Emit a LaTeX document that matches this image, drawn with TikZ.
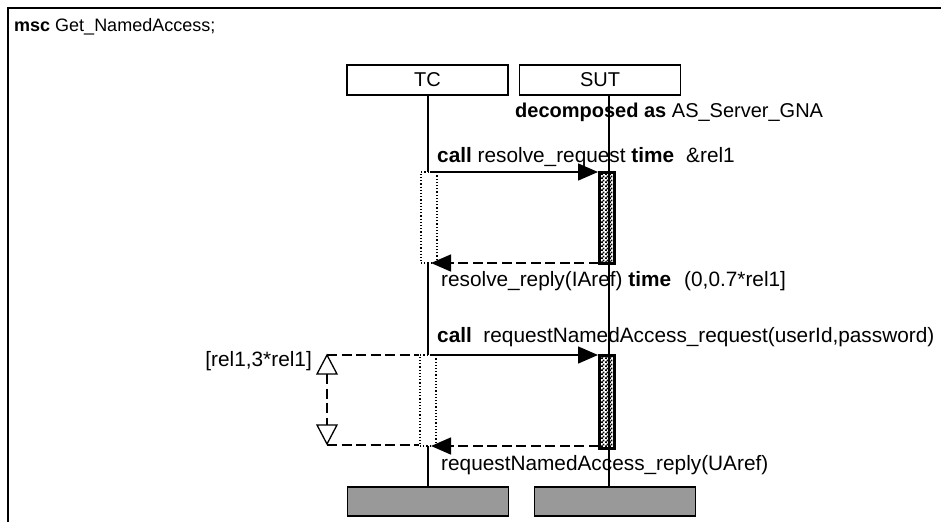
\documentclass[tikz,border=0pt]{standalone}
\usepackage{fontspec}
\setmainfont{Liberation Sans}
\usetikzlibrary{arrows.meta,patterns}
\pgfdeclarepatternformonly{finechecker}{\pgfpointorigin}{\pgfqpoint{3.6pt}{3.6pt}}{\pgfqpoint{3.6pt}{3.6pt}}{%
  \pgfpathrectangle{\pgfpointorigin}{\pgfqpoint{1.85pt}{1.85pt}}%
  \pgfpathrectangle{\pgfqpoint{1.8pt}{1.8pt}}{\pgfqpoint{1.85pt}{1.85pt}}%
  \pgfusepath{fill}}
\begin{document}
\begin{tikzpicture}[x=1pt,y=-1pt,
  txt/.style={anchor=base west, inner sep=0pt, font=\fontsize{20.8}{24}\selectfont},
  headbox/.style={draw, line width=1.5pt, minimum width=161pt, minimum height=30pt, inner sep=0pt, font=\fontsize{20}{24}\selectfont},
  endbox/.style={draw, line width=1.3pt, fill=black!40, minimum width=161pt, minimum height=29pt, inner sep=0pt},
  lifeline/.style={line width=2.6pt},
  actbox/.style={draw, line width=3pt, pattern=finechecker, inner sep=0pt, minimum width=15pt},
  suspbox/.style={draw, fill=white, dotted, line width=1.2pt, inner sep=0pt, minimum width=16pt},
  callarrow/.style={line width=1.5pt, -{Triangle[length=20pt,width=17pt]}},
  replyarrow/.style={line width=1.5pt, dash pattern=on 10pt off 4.5pt, -{Triangle[length=20pt,width=17pt]}},
  interval/.style={line width=1.3pt, dash pattern=on 10pt off 4.5pt},
  opentri/.style={draw, line width=1.3pt, fill=white}
]
\useasboundingbox (0,0) rectangle (941,522);
% frame
\draw[line width=2pt] (8,522) -- (8,8) -- (941,8);
\node[anchor=base west, inner sep=0pt, font=\fontsize{18}{22}\selectfont] (title) at (14,31) {\textbf{msc} Get\_NamedAccess;};

% instance heads
\node[headbox] (tchead) at (427.5,80) {TC};
\node[headbox] (suthead) at (600,80) {SUT};
\node[txt, font=\fontsize{20}{24}\selectfont] (decomp) at (515,117) {\textbf{decomposed as} AS\_Server\_GNA};

% instance ends
\node[endbox] (tcend) at (428,501.5) {};
\node[endbox] (sutend) at (615,501.5) {};

% lifelines
\coordinate (tcx) at (428,0);
\coordinate (sutx) at (609,0);
\draw[lifeline] (tchead.south -| tcx) -- (tcend.north -| tcx);
\draw[lifeline] (suthead.south -| sutx) -- (sutend.north -| sutx);

% first call
\node[suspbox, minimum height=91pt] (susp1) at (429,217.5) {};
\node[actbox, minimum height=91pt] (act1) at (607,217.5) {};
\coordinate (c1s) at (430,172);
\draw[callarrow] (c1s) -- (c1s -| act1.west);
\node[txt] (l1) at (437,162) {\textbf{call} resolve\_request \textbf{time}\hspace{12pt}\&rel1};
\coordinate (r1s) at (598.5,263);
\coordinate (r1e) at (431,263);
\draw[replyarrow] (r1s) -- (r1e);
\node[txt] (l2) at (441,286) {resolve\_reply(IAref) \textbf{time}\hspace{13pt}(0,0.7*rel1]};

% second call
\node[suspbox, minimum height=91pt] (susp2) at (428,400.5) {};
\node[actbox, minimum height=93pt] (act2) at (607,401.5) {};
\coordinate (c2s) at (430,355);
\draw[callarrow] (c2s) -- (c2s -| act2.west);
\node[txt] (l3) at (437,342) {\textbf{call}\ \ requestNamedAccess\_request(userId,password)};
\coordinate (r2s) at (598.5,446);
\coordinate (r2e) at (431,446);
\draw[replyarrow] (r2s) -- (r2e);
\node[txt] (l4) at (441,470) {requestNamedAccess\_reply(UAref)};

% time interval
\coordinate (it) at (327,355);
\coordinate (ib) at (327,445);
\draw[interval] (it) -- (it -| susp2.west);
\draw[interval] (ib) -- (ib -| susp2.west);
\draw[opentri] (327,355) -- (337,374) -- (317,374) -- cycle;
\draw[opentri] (327,444) -- (337,425) -- (317,425) -- cycle;
\draw[interval] (327,374) -- (327,425);
\node[txt, anchor=base east] (ilbl) at (312,366) {[rel1,3*rel1]};
\end{tikzpicture}
\end{document}
